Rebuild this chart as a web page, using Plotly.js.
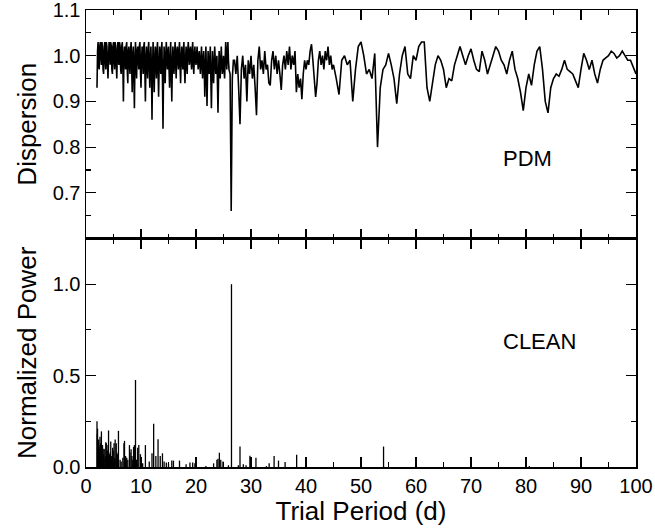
<!DOCTYPE html>
<html>
<head>
<meta charset="utf-8">
<script src="https://cdn.plot.ly/plotly-3.0.1.min.js"></script>
<style>html,body{margin:0;padding:0;background:#fff;}#chart{width:655px;height:529px;}</style>
</head>
<body>
<div id="chart"></div>
<script>
// ---- PDM (dispersion) data ----
// segment 1: periods 2.0 .. 26.0, spacing 0.1
var pdmSeg1Start = 2.0, pdmSeg1Step = 0.1;
var pdmSeg1 = [
  0.93, 1.01, 1.03, 0.98, 0.97, 1.02, 1.03, 1.00, 0.98, 1.03,
  1.02, 0.97, 0.96, 1.01, 1.03, 0.99, 0.97, 1.03, 1.02, 0.98,
  0.95, 1.00, 1.03, 1.01, 0.98, 1.03, 1.02, 0.97, 0.96, 1.02,
  1.03, 0.99, 0.97, 1.03, 1.02, 0.98, 0.95, 1.01, 1.03, 0.99,
  0.98, 1.03, 1.02, 0.97, 0.96, 1.02, 1.03, 0.98, 0.90, 1.00,
  1.02, 0.99, 0.97, 1.02, 1.03, 0.97, 0.94, 1.01, 1.02, 0.98,
  0.96, 1.01, 1.03, 0.98, 0.92, 1.00, 1.02, 0.96, 0.885, 0.99,
  1.03, 0.98, 0.95, 1.01, 1.02, 0.99, 0.97, 1.02, 1.03, 0.97,
  0.93, 0.99, 1.02, 1.00, 0.96, 1.02, 1.03, 0.97, 0.90, 0.99,
  1.02, 0.98, 0.95, 1.01, 1.03, 0.98, 0.93, 0.99, 1.02, 0.97,
  0.86, 0.97, 1.03, 0.99, 0.92, 0.98, 1.02, 0.99, 0.95, 1.01,
  1.03, 0.97, 0.91, 0.98, 1.02, 0.99, 0.96, 1.01, 1.03, 0.95,
  0.84, 0.96, 1.02, 0.98, 0.94, 1.00, 1.03, 0.99, 0.97, 1.01,
  1.02, 0.97, 0.93, 0.99, 1.03, 0.96, 0.90, 0.98, 1.02, 0.99,
  0.96, 1.00, 1.03, 0.98, 0.95, 1.01, 1.02, 0.99, 0.97, 1.01,
  1.03, 0.98, 0.94, 0.99, 1.02, 1.00, 0.97, 1.01, 1.03, 0.97,
  0.94, 0.99, 1.02, 0.98, 0.96, 1.01, 1.03, 1.00, 0.98, 1.01,
  1.02, 0.99, 0.97, 1.01, 1.03, 0.98, 0.96, 1.00, 1.02, 0.99,
  0.98, 1.00, 1.02, 0.99, 0.97, 1.00, 1.01, 0.98, 0.96, 0.99,
  1.02, 0.98, 0.95, 0.99, 1.01, 0.97, 0.91, 0.97, 1.02, 0.96,
  0.89, 0.96, 1.01, 0.98, 0.96, 0.99, 1.02, 0.95, 0.885, 0.96,
  1.01, 0.97, 0.94, 0.98, 1.02, 0.99, 0.96, 0.98, 1.00, 0.94,
  0.875, 0.95, 1.01, 0.98, 0.95, 0.99, 1.02, 0.98, 0.96, 0.98,
  1.00, 0.97, 0.95, 0.99, 1.03, 1.00, 0.97, 1.01, 1.03, 0.99,
  0.97
];
// the deep minimum near 26.4 d
var pdmDipPeriod = [26.2, 26.3, 26.4, 26.5, 26.6, 26.8];
var pdmDipValue  = [0.96, 0.81, 0.66, 0.80, 0.95, 0.99];
// segment 2: periods 27.0 .. 45.0, spacing 0.25
var pdmSeg2Start = 27.0, pdmSeg2Step = 0.25;
var pdmSeg2 = [
  0.99, 0.96, 1.00, 0.93,
  0.85, 0.97, 1.00, 0.95,
  0.98, 0.90, 0.99, 0.96,
  1.00, 0.95, 0.98, 0.93,
  0.87, 0.99, 1.02, 0.97,
  0.99, 0.96, 1.01, 0.97,
  0.98, 0.94, 0.935, 0.99,
  1.01, 0.97, 1.00, 0.96,
  0.99, 0.96, 0.925, 0.98,
  1.00, 0.97, 1.01, 0.98,
  1.02, 0.97, 1.00, 0.98,
  1.01, 0.92, 0.96, 0.93,
  0.95, 0.905, 0.96, 0.99,
  0.97, 0.99, 0.98, 1.01,
  1.025, 0.99, 0.95, 0.91,
  0.94, 0.99, 1.01, 0.98,
  1.00, 0.97, 1.01, 0.99,
  1.02, 0.98, 1.00, 0.97,
  0.98
];
// segment 3: periods 45.5 .. 100.0, spacing 0.5
var pdmSeg3Start = 45.5, pdmSeg3Step = 0.5;
var pdmSeg3 = [
  0.95, 0.915, 0.99, 1.00, 0.98, 0.99, 0.90, 0.97, 1.02, 1.03,
  1.00, 0.96, 0.97, 0.95, 1.005, 0.80, 0.93, 0.97, 0.98, 1.005,
  0.98, 0.95, 0.895, 0.96, 1.00, 1.02, 0.96, 0.95, 1.00, 0.99,
  1.02, 1.03, 1.03, 0.93, 0.90, 0.94, 0.98, 1.00, 0.99, 0.97,
  0.93, 0.95, 0.945, 0.98, 1.00, 1.02, 1.00, 0.98, 1.00, 1.015,
  0.99, 0.97, 0.965, 1.01, 0.99, 0.96, 0.98, 1.00, 1.02, 1.01,
  0.99, 0.98, 0.96, 0.99, 1.01, 0.97, 0.95, 0.92, 0.88, 0.93,
  0.96, 0.935, 0.98, 1.01, 1.02, 0.97, 0.90, 0.875, 0.93, 0.95,
  0.96, 0.955, 0.97, 0.99, 0.97, 0.965, 0.96, 0.945, 0.93, 0.97,
  1.005, 0.99, 0.97, 0.99, 0.96, 0.94, 0.97, 0.99, 0.995, 1.00,
  1.01, 1.005, 0.995, 1.00, 1.01, 1.00, 0.99, 0.99, 0.975, 0.96
];

// ---- CLEAN (normalized power) data ----
var cleanPeriod = [2.0, 2.05, 2.1, 2.2, 2.3, 2.35, 2.45, 2.55, 2.6, 2.65, 2.75, 2.8, 2.9, 3.0, 3.05, 3.15,
  3.25, 3.3, 3.45, 3.55, 3.6, 3.7, 3.8, 3.85, 3.95, 4.0, 4.1, 4.2, 4.3, 4.4, 4.5, 4.6, 4.7, 4.85, 4.95,
  5.1, 5.2, 5.3, 5.45, 5.5, 5.6, 5.75, 5.9, 6.2, 6.4, 6.7, 6.9, 7.0, 7.2, 7.4, 7.6, 7.9, 8.0, 8.2, 8.35,
  8.5, 8.65, 8.8, 9.0, 9.2, 9.4, 9.6, 9.9, 10.3, 10.8, 11.5, 12.0, 12.3, 12.7, 13.1, 13.5, 13.9, 14.2,
  14.6, 15.0, 15.6, 15.9, 17.0, 18.2, 18.9, 19.4, 19.8, 21.8, 23.2, 23.8, 24.0, 24.25, 24.5, 24.9, 25.9,
  26.45, 27.7, 28.0, 28.6, 29.1, 29.8, 30.9, 32.8, 33.3, 34.2, 35.0, 36.2, 38.3, 40.0, 54.1, 80.6];
var cleanPower = [0.25, 0.18, 0.21, 0.12, 0.15, 0.12, 0.10, 0.165, 0.11, 0.13, 0.09, 0.195, 0.08, 0.12, 0.05, 0.07,
  0.10, 0.097, 0.05, 0.06, 0.135, 0.13, 0.06, 0.05, 0.09, 0.12, 0.2, 0.05, 0.07, 0.08, 0.14, 0.06, 0.045, 0.105, 0.09,
  0.13, 0.05, 0.15, 0.045, 0.13, 0.08, 0.07, 0.198, 0.04, 0.03, 0.05, 0.13, 0.143, 0.06, 0.05, 0.04, 0.12, 0.08, 0.097, 0.06,
  0.04, 0.11, 0.12, 0.476, 0.04, 0.105, 0.12, 0.07, 0.02, 0.12, 0.03, 0.075, 0.236, 0.06, 0.152, 0.06, 0.075, 0.03,
  0.025, 0.02, 0.035, 0.035, 0.035, 0.015, 0.025, 0.025, 0.02, 0.005, 0.02, 0.04, 0.045, 0.078, 0.04, 0.03, 0.01,
  1.0, 0.01, 0.112, 0.015, 0.01, 0.062, 0.05, 0.005, 0.02, 0.06, 0.035, 0.028, 0.067, 0.01, 0.112, 0.005];

var xTickVals = [0, 10, 20, 30, 40, 50, 60, 70, 80, 90, 100];
var pdmTickVals = [0.7, 0.8, 0.9, 1.0, 1.1];
var cleanTickVals = [0.0, 0.5, 1.0];

// ---- build traces ----
function addSeg(start, step, vals, xs, ys) {
  for (var i = 0; i < vals.length; i++) { xs.push(+(start + i * step).toFixed(3)); ys.push(vals[i]); }
}
var pdmX = [], pdmY = [];
addSeg(pdmSeg1Start, pdmSeg1Step, pdmSeg1, pdmX, pdmY);
for (var i = 0; i < pdmDipPeriod.length; i++) { pdmX.push(pdmDipPeriod[i]); pdmY.push(pdmDipValue[i]); }
addSeg(pdmSeg2Start, pdmSeg2Step, pdmSeg2, pdmX, pdmY);
addSeg(pdmSeg3Start, pdmSeg3Step, pdmSeg3, pdmX, pdmY);

var cX = [], cY = [];
for (var j = 0; j < cleanPeriod.length; j++) {
  cX.push(cleanPeriod[j], cleanPeriod[j], null);
  cY.push(0, cleanPower[j], null);
}

var font = {family: 'Liberation Sans, Arial, sans-serif', color: '#000'};
var traces = [
  {x: pdmX, y: pdmY, type: 'scatter', mode: 'lines', xaxis: 'x', yaxis: 'y',
   line: {color: '#000', width: 1.6, simplify: false}, hoverinfo: 'skip'},
  {x: cX, y: cY, type: 'scatter', mode: 'lines', xaxis: 'x2', yaxis: 'y2',
   line: {color: '#000', width: 1.3, simplify: false}, connectgaps: false, hoverinfo: 'skip'}
];

var axCommon = {
  showline: true, linecolor: '#000', linewidth: 1.5, mirror: 'allticks',
  ticks: 'inside', ticklen: 10, tickwidth: 1.2, tickcolor: '#000', ticklabeloverflow: 'allow',
  showgrid: false, zeroline: false, tickfont: {family: font.family, size: 20, color: '#000'}
};
function ax(extra) { return Object.assign({}, axCommon, extra); }
var minorStyle = {ticks: 'inside', ticklen: 5, tickcolor: '#000', tickwidth: 1.2, showgrid: false};

var layout = {
  width: 655, height: 529,
  margin: {l: 86, r: 19, t: 10, b: 62},
  paper_bgcolor: '#fff', plot_bgcolor: '#fff',
  showlegend: false,
  font: font,
  xaxis: ax({anchor: 'y', range: [0, 100], tickmode: 'array', tickvals: xTickVals, showticklabels: false,
    minor: Object.assign({dtick: 5, tick0: 0}, minorStyle)}),
  yaxis: ax({domain: [0.5, 1], anchor: 'x', range: [0.6, 1.1], tickmode: 'array', tickvals: pdmTickVals,
    tickformat: '.1f',
    minor: Object.assign({dtick: 0.05, tick0: 0.6}, minorStyle),
    title: {text: 'Dispersion', font: {family: font.family, size: 26, color: '#000'}, standoff: 8}}),
  xaxis2: ax({anchor: 'y2', range: [0, 100], tickmode: 'array', tickvals: xTickVals,
    minor: Object.assign({dtick: 5, tick0: 0}, minorStyle),
    title: {text: 'Trial Period (d)', font: {family: font.family, size: 26, color: '#000'}, standoff: 2}}),
  yaxis2: ax({domain: [0, 0.5], anchor: 'x2', range: [0, 1.25], tickmode: 'array', tickvals: cleanTickVals,
    tickformat: '.1f',
    minor: Object.assign({dtick: 0.25, tick0: 0}, minorStyle),
    title: {text: 'Normalized Power', font: {family: font.family, size: 26, color: '#000'}, standoff: 8}}),
  annotations: [
    {text: 'PDM', x: 80.3, y: 0.774, xref: 'x', yref: 'y', showarrow: false,
     font: {family: font.family, size: 22, color: '#000'}},
    {text: 'CLEAN', x: 82.4, y: 0.684, xref: 'x2', yref: 'y2', showarrow: false,
     font: {family: font.family, size: 22, color: '#000'}}
  ]
};

Plotly.newPlot('chart', traces, layout, {staticPlot: true, displayModeBar: false});
</script>
</body>
</html>
